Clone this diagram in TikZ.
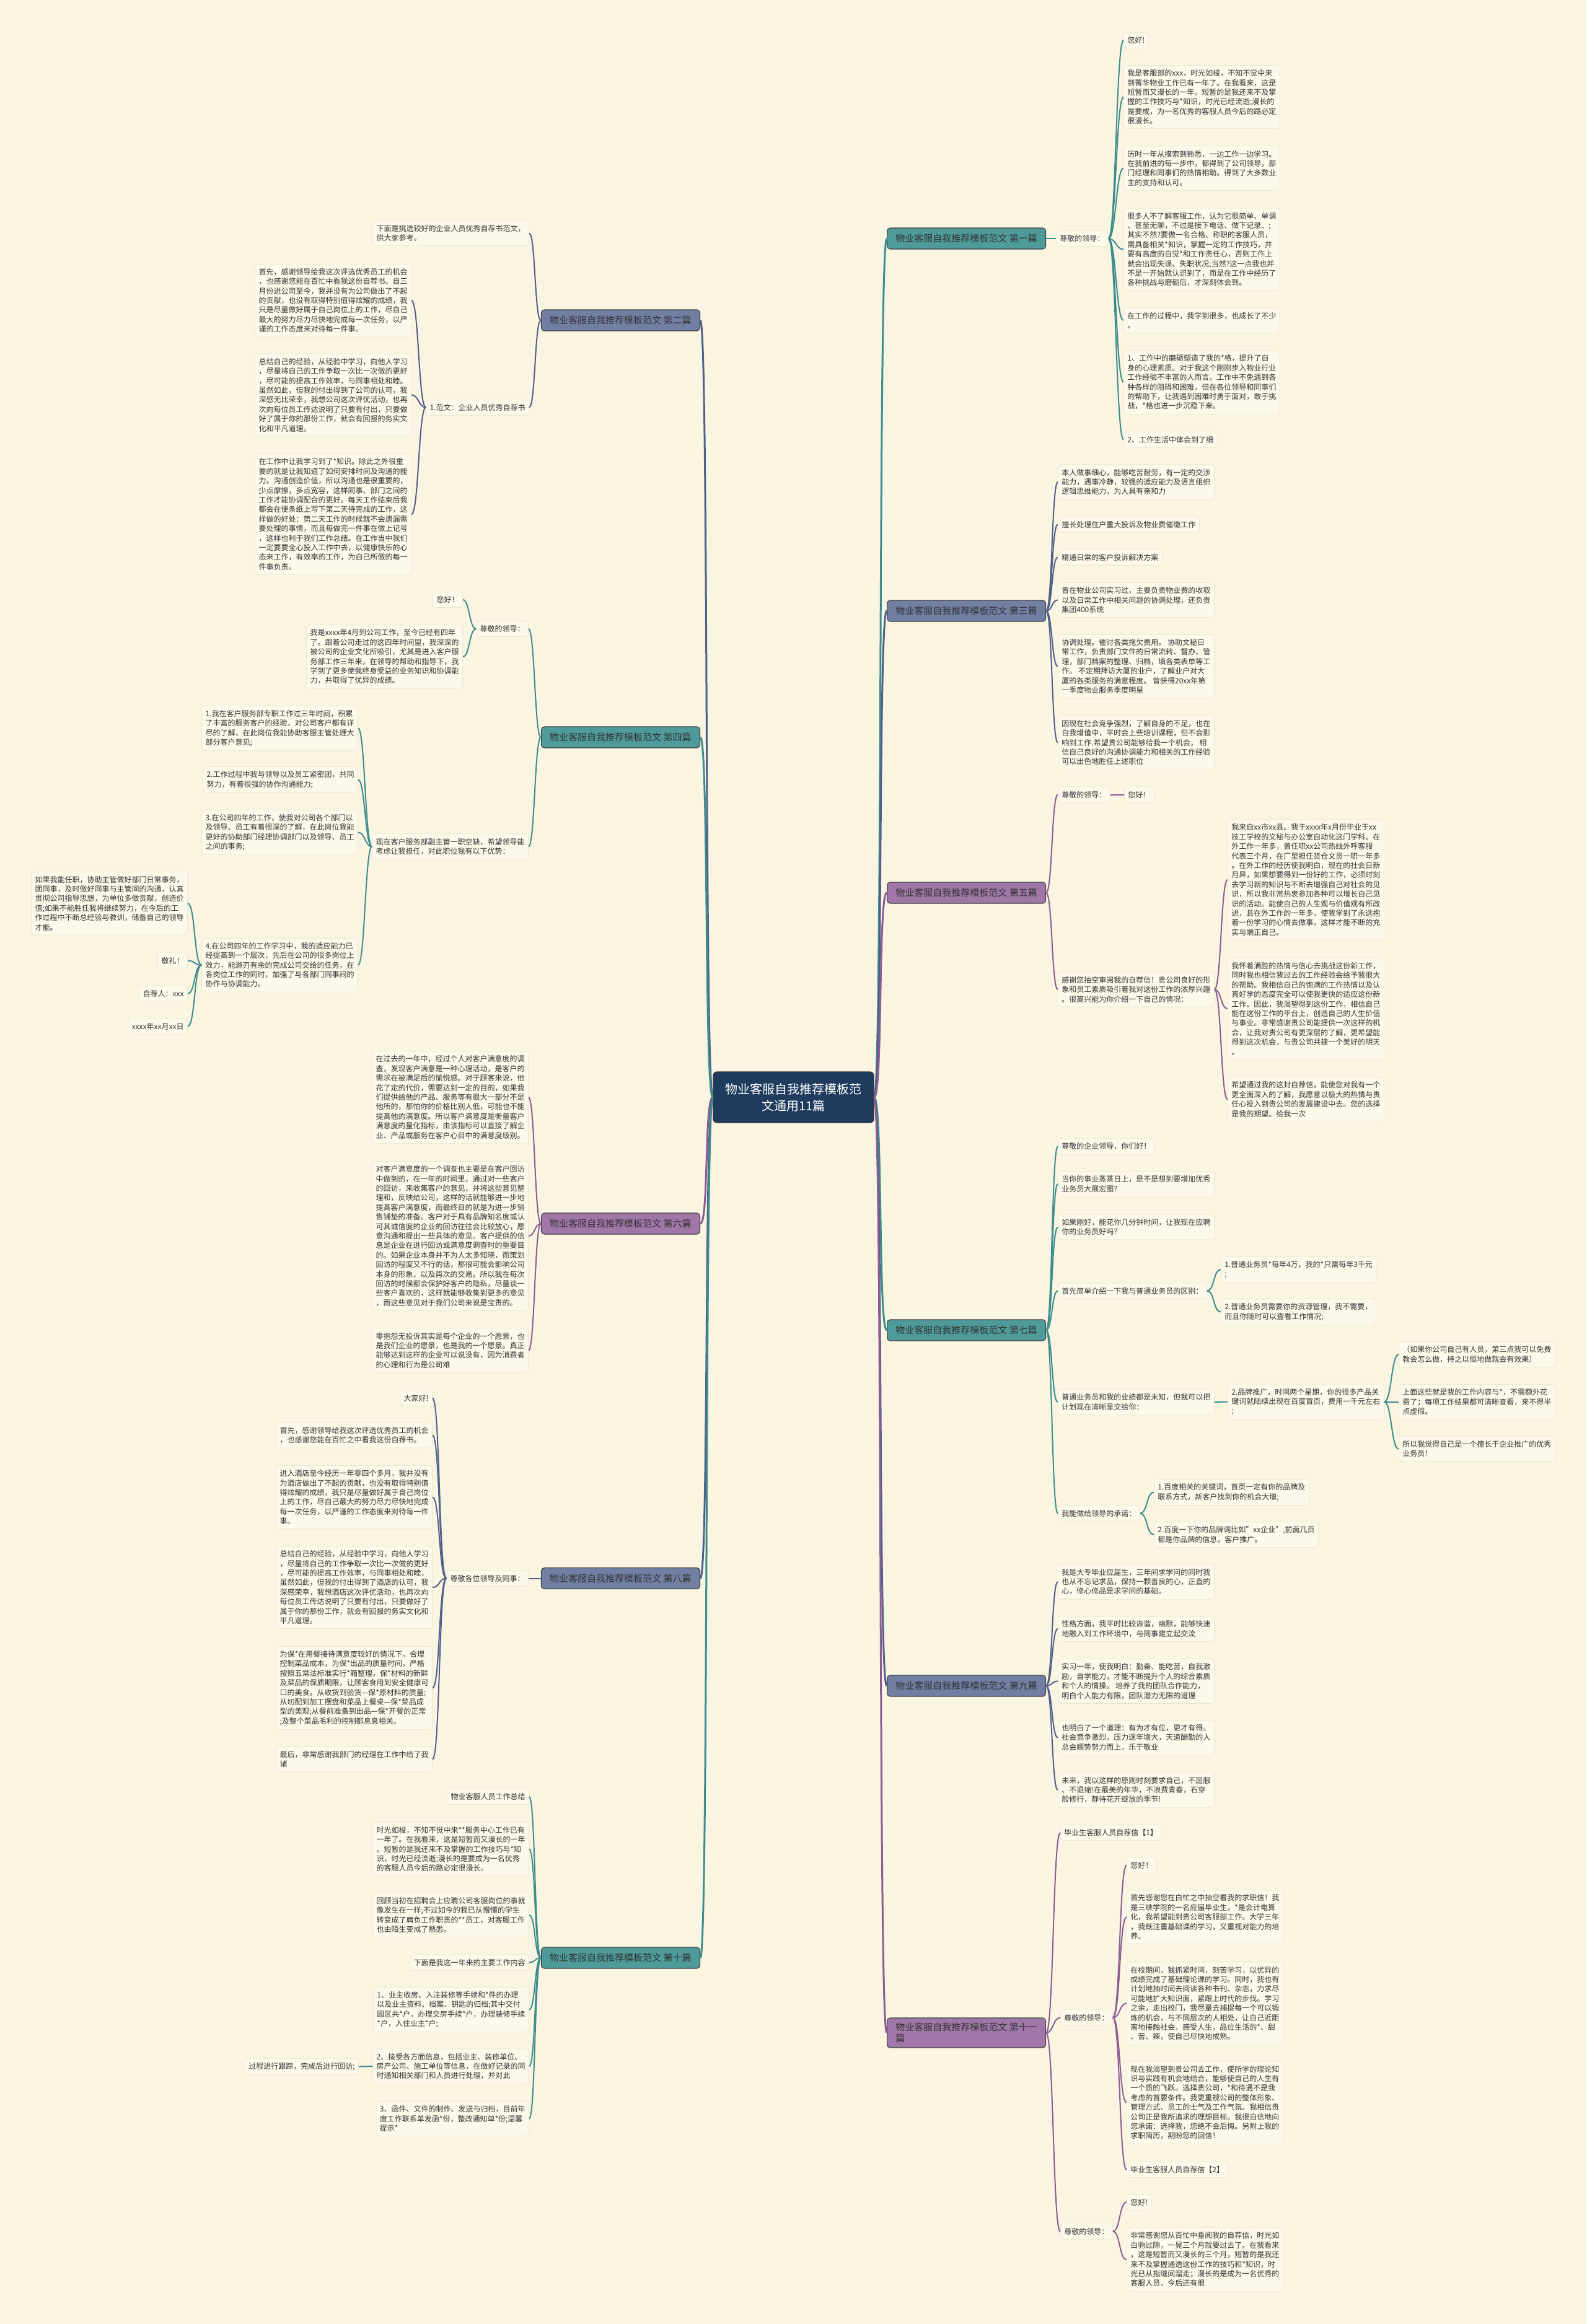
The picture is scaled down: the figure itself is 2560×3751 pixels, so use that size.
\documentclass[tikz,border=0pt]{standalone}
\usepackage{fontspec}
\setmainfont{Noto Sans CJK SC}
\usetikzlibrary{positioning}
\definecolor{bgcream}{HTML}{FAF5E1}
\definecolor{leaffill}{HTML}{FCF8EA}
\definecolor{leafline}{HTML}{EEE7D0}
\definecolor{inkgray}{HTML}{333333}
\definecolor{rootnavy}{HTML}{1F3C5E}
\definecolor{tealfill}{HTML}{4F9A9A}
\definecolor{tealline}{HTML}{3D8C8E}
\definecolor{slatefill}{HTML}{717FA3}
\definecolor{slateline}{HTML}{50608A}
\definecolor{plumfill}{HTML}{A077A8}
\definecolor{plumline}{HTML}{8C5C94}
\tikzset{
  leafbox/.style={draw=leafline, fill=leaffill, rounded corners=4pt, line width=0.8pt,
    text=inkgray, font=\fontsize{12}{15.4}\selectfont, align=left, inner xsep=6pt, inner ysep=7pt},
  leafR/.style={leafbox, anchor=west},
  leafL/.style={leafbox, anchor=east},
  branchbox/.style={draw=black!75, rounded corners=5pt, line width=1.2pt, text=inkgray,
    font=\fontsize{15}{18}\selectfont, minimum width=256pt, minimum height=34pt,
    inner xsep=9pt, inner ysep=7pt, align=left},
  rootbox/.style={draw=black!80, fill=rootnavy, rounded corners=6pt, line width=1.2pt, text=white,
    font=\fontsize{20}{27}\selectfont, minimum width=259pt, minimum height=82pt, align=center},
  mainwire/.style={line width=3pt},
  wire/.style={line width=2pt}
}
\begin{document}
\begin{tikzpicture}[x=1pt, y=-1pt]
  \useasboundingbox (0,0) rectangle (2560,3751);
  \fill[bgcream] (0,0) rectangle (2560,3751);

  % root
  \node[rootbox] (root) at (1280.5,1771) {物业客服自我推荐模板范\\文通用11篇};

  % branches, right
  \node[branchbox, fill=tealfill, anchor=west] (b1) at (1431,385) {物业客服自我推荐模板范文 第一篇};
  \node[branchbox, fill=slatefill, anchor=west] (b3) at (1431,986) {物业客服自我推荐模板范文 第三篇};
  \node[branchbox, fill=plumfill, anchor=west] (b5) at (1431,1441) {物业客服自我推荐模板范文 第五篇};
  \node[branchbox, fill=tealfill, anchor=west] (b7) at (1431,2147) {物业客服自我推荐模板范文 第七篇};
  \node[branchbox, fill=slatefill, anchor=west] (b9) at (1431,2721) {物业客服自我推荐模板范文 第九篇};
  \node[branchbox, fill=plumfill, anchor=west, minimum height=48pt] (b11) at (1431,3281) {物业客服自我推荐模板范文 第十一\\篇};
  % branches, left
  \node[branchbox, fill=slatefill, anchor=east] (b2) at (1130,517) {物业客服自我推荐模板范文 第二篇};
  \node[branchbox, fill=tealfill, anchor=east] (b4) at (1130,1190) {物业客服自我推荐模板范文 第四篇};
  \node[branchbox, fill=plumfill, anchor=east] (b6) at (1130,1975) {物业客服自我推荐模板范文 第六篇};
  \node[branchbox, fill=slatefill, anchor=east] (b8) at (1130,2547.5) {物业客服自我推荐模板范文 第八篇};
  \node[branchbox, fill=tealfill, anchor=east] (b10) at (1130,3160) {物业客服自我推荐模板范文 第十篇};

  % first
  \node[leafR] (b1a) at (1704,385) {尊敬的领导：};
  \node[leafR] (b1l1) at (1813,65) {您好!};
  \node[leafR] (b1l2) at (1813,156.5) {我是客服部的xxx，时光如梭，不知不觉中来\\到菁华物业工作已有一年了。在我看来，这是\\短暂而又漫长的一年。短暂的是我还来不及掌\\握的工作技巧与*知识，时光已经流逝;漫长的\\是要成，为一名优秀的客服人员今后的路必定\\很漫长。};
  \node[leafR] (b1l3) at (1813,271.5) {历时一年从摸索到熟悉，一边工作一边学习。\\在我前进的每一步中，都得到了公司领导，部\\门经理和同事们的热情相助。得到了大多数业\\主的支持和认可。};
  \node[leafR] (b1l4) at (1813,402.5) {很多人不了解客服工作，认为它很简单、单调\\、甚至无聊，不过是接下电话、做下记录、;\\其实不然?要做一名合格、称职的客服人员，\\需具备相关*知识，掌握一定的工作技巧，并\\要有高度的自觉*和工作责任心，否则工作上\\就会出现失误、失职状况;当然?这一点我也并\\不是一开始就认识到了，而是在工作中经历了\\各种挑战与磨砺后，才深刻体会到。};
  \node[leafR] (b1l5) at (1813,517) {在工作的过程中，我学到很多，也成长了不少\\。};
  \node[leafR] (b1l6) at (1813,617) {1、工作中的磨砺塑造了我的*格，提升了自\\身的心理素质。对于我这个刚刚步入物业行业\\工作经验不丰富的人而言。工作中不免遇到各\\种各样的阻碍和困难，但在各位领导和同事们\\的帮助下，让我遇到困难时勇于面对，敢于挑\\战，*格也进一步沉稳下来。};
  \node[leafR] (b1l7) at (1813,709.5) {2、工作生活中体会到了细};

  % third
  \node[leafR] (b3l1) at (1707,778) {本人做事细心，能够吃苦耐劳，有一定的交涉\\能力，遇事冷静，较强的适应能力及语言组织\\逻辑思维能力，为人具有亲和力};
  \node[leafR] (b3l2) at (1707,846.5) {擅长处理住户重大投诉及物业费催缴工作};
  \node[leafR] (b3l3) at (1707,899.5) {精通日常的客户投诉解决方案};
  \node[leafR] (b3l4) at (1707,968.5) {曾在物业公司实习过，主要负责物业费的收取\\以及日常工作中相关问题的协调处理，还负责\\集团400系统};
  \node[leafR] (b3l5) at (1707,1075.5) {协调处理。催讨各类拖欠费用。 协助文秘日\\常工作，负责部门文件的日常流转、督办、管\\理，部门档案的整理、归档，填各类表单等工\\作。 不定期拜访大厦的业户，了解业户对大\\厦的各类服务的满意程度。 曾获得20xx年第\\一季度物业服务季度明星};
  \node[leafR] (b3l6) at (1707,1198.5) {因现在社会竞争强烈，了解自身的不足，也在\\自我增值中，平时会上些培训课程，但不会影\\响到工作.希望贵公司能够给我一个机会， 相\\信自己良好的沟通协调能力和相关的工作经验\\可以出色地胜任上述职位};

  % fifth
  \node[leafR] (b5a) at (1707,1282.5) {尊敬的领导：};
  \node[leafR] (b5b) at (1814,1282.5) {您好！};
  \node[leafR] (b5c) at (1707,1597) {感谢您抽空审阅我的自荐信！贵公司良好的形\\象和员工素质吸引着我对这份工作的浓厚兴趣\\。很高兴能为你介绍一下自己的情况：};
  \node[leafR] (b5c1) at (1981,1420) {我来自xx市xx县。我于xxxx年x月份毕业于xx\\技工学校的文秘与办公室自动化这门学科。在\\外工作一年多，曾任职xx公司热线外呼客服\\代表三个月，在厂里担任货仓文员一职一年多\\。在外工作的经历使我明白，现在的社会日新\\月异，如果想要得到一份好的工作，必须时刻\\去学习新的知识与不断去增强自己对社会的见\\识，所以我非常热衷参加各种可以增长自己见\\识的活动。能使自己的人生观与价值观有所改\\进，且在外工作的一年多，使我学到了永远抱\\着一份学习的心情去做事，这样才能不断的充\\实与端正自己。};
  \node[leafR] (b5c2) at (1981,1628) {我怀着满腔的热情与信心去挑战这份新工作，\\同时我也相信我过去的工作经验会给予我很大\\的帮助。我相信自己的饱满的工作热情以及认\\真好学的态度完全可以使我更快的适应这份新\\工作。因此，我渴望得到这份工作，相信自己\\能在这份工作的平台上，创造自己的人生价值\\与事业。非常感谢贵公司能提供一次这样的机\\会，让我对贵公司有更深层的了解，更希望能\\得到这次机会，与贵公司共建一个美好的明天\\。};
  \node[leafR] (b5c3) at (1981,1774.5) {希望通过我的这封自荐信，能使您对我有一个\\更全面深入的了解，我愿意以极大的热情与责\\任心投入到贵公司的发展建设中去。您的选择\\是我的期望。给我一次};

  % seventh
  \node[leafR] (b7l1) at (1707,1850.5) {尊敬的企业领导，你们好！};
  \node[leafR] (b7l2) at (1707,1911) {当你的事业蒸蒸日上，是不是想到要增加优秀\\业务员大展宏图？};
  \node[leafR] (b7l3) at (1707,1980.5) {如果刚好，能花你几分钟时间，让我现在应聘\\你的业务员好吗？};
  \node[leafR] (b7l4) at (1707,2083.5) {首先简单介绍一下我与普通业务员的区别：};
  \node[leafR] (b7l4a) at (1970,2049) {1.普通业务员*每年4万，我的*只需每年3千元\\;};
  \node[leafR] (b7l4b) at (1970,2117.5) {2.普通业务员需要你的资源管理，我不需要，\\而且你随时可以查看工作情况;};
  \node[leafR] (b7l5) at (1707,2263) {普通业务员和我的业绩都是未知，但我可以把\\计划现在清晰呈交给你：};
  \node[leafR] (b7l5a) at (1981,2262.5) {2.品牌推广，时间两个星期，你的很多产品关\\键词就陆续出现在百度首页，费用一千元左右\\;};
  \node[leafR] (b7l5a1) at (2257,2186) {（如果你公司自己有人员，第三点我可以免费\\教会怎么做，持之以恒地做就会有效果）};
  \node[leafR] (b7l5a2) at (2257,2262.5) {上面这些就是我的工作内容与*，不需额外花\\费了；每项工作结果都可清晰查看，来不得半\\点虚假。};
  \node[leafR] (b7l5a3) at (2257,2338.5) {所以我觉得自己是一个擅长于企业推广的优秀\\业务员！};
  \node[leafR] (b7l6) at (1707,2442.5) {我能做给领导的承诺：};
  \node[leafR] (b7l6a) at (1862,2408.5) {1.百度相关的关键词，首页一定有你的品牌及\\联系方式，新客户找到你的机会大增;};
  \node[leafR] (b7l6b) at (1862,2477) {2.百度一下你的品牌词比如"xx企业",前面几页\\都是你品牌的信息，客户推广。};

  % ninth
  \node[leafR] (b9l1) at (1707,2553) {我是大专毕业应届生，三年间求学问的同时我\\也从不忘记求品，保持一颗善良的心，正直的\\心，修心修品是求学问的基础。};
  \node[leafR] (b9l2) at (1707,2629) {性格方面，我平时比较诙谐，幽默，能够快速\\地融入到工作坏境中，与同事建立起交流};
  \node[leafR] (b9l3) at (1707,2713.5) {实习一年，使我明白：勤奋、能吃苦，自我激\\励，自学能力，才能不断提升个人的综合素质\\和个人的情操。 培养了我的团队合作能力，\\明白个人能力有限，团队潜力无限的道理};
  \node[leafR] (b9l4) at (1707,2804.5) {也明白了一个道理：有为才有位，更才有得。\\社会竞争激烈，压力逐年增大，天道酬勤的人\\总会顺势努力而上，乐于敬业};
  \node[leafR] (b9l5) at (1707,2889) {未来，我以这样的原则时刻要求自己，不屈服\\、不退缩!在最美的年华，不浪费青春，石穿\\般修行，静待花开绽放的季节!};

  % eleventh
  \node[leafR] (b11a) at (1711,2958) {毕业生客服人员自荐信【1】};
  \node[leafR] (b11b) at (1711,3256.5) {尊敬的领导：};
  \node[leafR] (b11b1) at (1818,3010.5) {您好！};
  \node[leafR] (b11b2) at (1818,3094) {首先感谢您在白忙之中抽空看我的求职信！我\\是三峡学院的一名应届毕业生，*是会计电算\\化，我希望能到贵公司客服部工作。大学三年\\，我既注重基础课的学习，又重视对能力的培\\养。};
  \node[leafR] (b11b3) at (1818,3233.5) {在校期间，我抓紧时间，刻苦学习，以优异的\\成绩完成了基础理论课的学习。同时，我也有\\计划地抽时间去阅读各种书刊、杂志，力求尽\\可能地扩大知识面，紧跟上时代的步伐。学习\\之余，走出校门，我尽量去捕捉每一个可以锻\\炼的机会，与不同层次的人相处，让自己近距\\离地接触社会，感受人生，品位生活的*、甜\\、苦、辣，使自己尽快地成熟。};
  \node[leafR] (b11b4) at (1818,3393.5) {现在我渴望到贵公司去工作，使所学的理论知\\识与实践有机会地结合，能够使自己的人生有\\一个质的飞跃。选择贵公司，*和待遇不是我\\考虑的首要条件。我更重视公司的整体形象、\\管理方式、员工的士气及工作气氛。我相信贵\\公司正是我所追求的理想目标。我很自信地向\\您承诺：选择我，您绝不会后悔。另附上我的\\求职简历，期盼您的回信！};
  \node[leafR] (b11b5) at (1818,3502) {毕业生客服人员自荐信【2】};
  \node[leafR] (b11c) at (1711,3601.5) {尊敬的领导：};
  \node[leafR] (b11c1) at (1818,3554.5) {您好!};
  \node[leafR] (b11c2) at (1818,3647) {非常感谢您从百忙中垂阅我的自荐信，时光如\\白驹过隙，一晃三个月就要过去了。在我看来\\，这是短暂而又漫长的三个月，短暂的是我还\\来不及掌握通透这份工作的技巧和*知识，时\\光已从指缝间溜走；漫长的是成为一名优秀的\\客服人员，今后还有很};

  % second
  \node[leafL] (b2l1) at (854,376.5) {下面是挑选较好的企业人员优秀自荐书范文，\\供大家参考。};
  \node[leafL] (b2l2) at (854,657.5) {1.范文：企业人员优秀自荐书};
  \node[leafL] (b2l2a) at (664,485) {首先，感谢领导给我这次评选优秀员工的机会\\，也感谢您能在百忙中看我这份自荐书。自三\\月份进公司至今，我并没有为公司做出了不起\\的贡献，也没有取得特别值得炫耀的成绩，我\\只是尽量做好属于自己岗位上的工作，尽自己\\最大的努力尽力尽快地完成每一次任务，以严\\谨的工作态度来对待每一件事。};
  \node[leafL] (b2l2b) at (664,637.5) {总结自己的经验，从经验中学习，向他人学习\\，尽量将自己的工作争取一次比一次做的更好\\，尽可能的提高工作效率，与同事相处和睦。\\虽然如此，但我的付出得到了公司的认可，我\\深感无比荣幸，我想公司这次评优活动，也再\\次向每位员工传达说明了只要有付出，只要做\\好了属于你的那份工作，就会有回报的务实文\\化和平凡道理。};
  \node[leafL] (b2l2c) at (664,830) {在工作中让我学习到了*知识。除此之外很重\\要的就是让我知道了如何安排时间及沟通的能\\力。沟通创造价值，所以沟通也是很重要的，\\少点摩擦，多点宽容，这样同事、部门之间的\\工作才能协调配合的更好。每天工作结束后我\\都会在便条纸上写下第二天待完成的工作，这\\样做的好处：第二天工作的时候就不会遗漏需\\要处理的事情，而且每做完一件事在做上记号\\，这样也利于我们工作总结。在工作当中我们\\一定要要全心投入工作中去，以健康快乐的心\\态来工作，有效率的工作，为自己所做的每一\\件事负责。};

  % fourth
  \node[leafL] (b4a) at (853,1015) {尊敬的领导：};
  \node[leafL] (b4a1) at (747,968) {您好！};
  \node[leafL] (b4a2) at (747,1060) {我是xxxx年4月到公司工作，至今已经有四年\\了。跟着公司走过的这四年时间里，我深深的\\被公司的企业文化所吸引，尤其是进入客户服\\务部工作三年来，在领导的帮助和指导下，我\\学到了更多使我终身受益的业务知识和协调能\\力，并取得了优异的成绩。};
  \node[leafL] (b4b) at (853,1366.5) {现在客户服务部副主管一职空缺，希望领导能\\考虑让我担任，对此职位我有以下优势：};
  \node[leafL] (b4b1) at (578,1175.5) {1.我在客户服务部专职工作过三年时间，积累\\了丰富的服务客户的经验，对公司客户都有详\\尽的了解，在此岗位我能协助客服主管处理大\\部分客户意见;};
  \node[leafL] (b4b2) at (578,1258.5) {2.工作过程中我与领导以及员工紧密团，共同\\努力，有着很强的协作沟通能力;};
  \node[leafL] (b4b3) at (578,1343.5) {3.在公司四年的工作，使我对公司各个部门以\\及领导、员工有着很深的了解，在此岗位我能\\更好的协助部门经理协调部门以及领导、员工\\之间的事务;};
  \node[leafL] (b4b4) at (578,1557.5) {4.在公司四年的工作学习中，我的适应能力已\\经提高到一个层次，先后在公司的很多岗位上\\效力，能游刃有余的完成公司交给的任务，在\\各岗位工作的同时，加强了与各部门同事间的\\协作与协调能力。};
  \node[leafL] (b4b4a) at (303,1458) {如果我能任职，协助主管做好部门日常事务，\\团同事，及时做好同事与主管间的沟通，认真\\贯彻公司指导思想，为单位多做贡献，创造价\\值;如果不能胜任我将继续努力，在今后的工\\作过程中不断总经验与教训，储备自己的领导\\才能。};
  \node[leafL] (b4b4b) at (303,1550.5) {敬礼！};
  \node[leafL] (b4b4c) at (303,1603.5) {自荐人：xxx};
  \node[leafL] (b4b4d) at (303,1656.5) {xxxx年xx月xx日};

  % sixth
  \node[leafL] (b6l1) at (853,1771) {在过去的一年中，经过个人对客户满意度的调\\查，发现客户满意是一种心理活动，是客户的\\需求在被满足后的愉悦感。对于顾客来说，他\\花了定的代价，需要达到一定的目的，如果我\\们提供给他的产品、服务等有很大一部分不是\\他所的，那怕你的价格比别人低，可能也不能\\提高他的满意度。所以客户满意度是衡量客户\\满意度的量化指标，由该指标可以直接了解企\\业、产品或服务在客户心目中的满意度级别。};
  \node[leafL] (b6l2) at (853,1995) {对客户满意度的一个调查也主要是在客户回访\\中做到的，在一年的时间里，通过对一些客户\\的回访，来收集客户的意见，并将这些意见整\\理和，反映给公司，这样的话就能够进一步地\\提高客户满意度，而最终目的就是为进一步销\\售铺垫的准备。客户对于具有品牌知名度或认\\可其诚信度的企业的回访往往会比较放心，愿\\意沟通和提出一些具体的意见。客户提供的信\\息是企业在进行回访或满意度调查时的重要目\\的。如果企业本身并不为人太多知晓，而策划\\回访的程度又不行的话，那很可能会影响公司\\本身的形象，以及再次的交易。所以我在每次\\回访的时候都会保护好客户的隐私，尽量谈一\\些客户喜欢的，这样就能够收集到更多的意见\\，而这些意见对于我们公司来说是宝贵的。};
  \node[leafL] (b6l3) at (853,2179.5) {零抱怨无投诉其实是每个企业的一个愿景，也\\是我们企业的愿景，也是我的一个愿景。真正\\能够达到这样的企业可以说没有，因为消费者\\的心理和行为是公司难};

  % eighth
  \node[leafL] (b8a) at (853,2547.5) {尊敬各位领导及同事：};
  \node[leafL] (b8a1) at (698,2256.5) {大家好!};
  \node[leafL] (b8a2) at (698,2316.5) {首先，感谢领导给我这次评选优秀员工的机会\\，也感谢您能在百忙之中看我这份自荐书。};
  \node[leafL] (b8a3) at (698,2416.5) {进入酒店至今经历一年零四个多月，我并没有\\为酒店做出了不起的贡献，也没有取得特别值\\得炫耀的成绩，我只是尽量做好属于自己岗位\\上的工作，尽自己最大的努力尽力尽快地完成\\每一次任务，以严谨的工作态度来对待每一件\\事。};
  \node[leafL] (b8a4) at (698,2562) {总结自己的经验，从经验中学习，向他人学习\\，尽量将自己的工作争取一次比一次做的更好\\，尽可能的提高工作效率，与同事相处和睦，\\虽然如此，但我的付出得到了酒店的认可，我\\深感荣幸，我想酒店这次评优活动，也再次向\\每位员工传达说明了只要有付出，只要做好了\\属于你的那份工作，就会有回报的务实文化和\\平凡道理。};
  \node[leafL] (b8a5) at (698,2724.5) {为保*在用餐接待满意度较好的情况下，合理\\控制菜品成本，为保*出品的质量时间，严格\\按照五常法标准实行*箱整理，保*材料的新鲜\\及菜品的保质期限，让顾客食用到安全健康可\\口的美食。从收货到验货—保*原材料的质量;\\从切配到加工摆盘和菜品上餐桌—保*菜品成\\型的美观;从餐前准备到出品—保*开餐的正常\\;及整个菜品毛利的控制都息息相关。};
  \node[leafL] (b8a6) at (698,2839.5) {最后，非常感谢我部门的经理在工作中给了我\\诸};

  % tenth
  \node[leafL] (b10l1) at (854,2900) {物业客服人员工作总结};
  \node[leafL] (b10l2) at (854,2984.5) {时光如梭，不知不觉中来**服务中心工作已有\\一年了。在我看来，这是短暂而又漫长的一年\\。短暂的是我还来不及掌握的工作技巧与*知\\识，时光已经流逝;漫长的是要成为一名优秀\\的客服人员今后的路必定很漫长。};
  \node[leafL] (b10l3) at (854,3091) {回顾当初在招聘会上应聘公司客服岗位的事就\\像发生在一样;不过如今的我已从懵懂的学生\\转变成了肩负工作职责的**员工，对客服工作\\也由陌生变成了熟悉。};
  \node[leafL] (b10l4) at (854,3167.5) {下面是我这一年来的主要工作内容};
  \node[leafL] (b10l5) at (854,3243.5) {1、业主收房、入注装修等手续和*件的办理\\以及业主资料、档案、钥匙的归档;其中交付\\园区共*户，办理交房手续*户，办理装修手续\\*户，入住业主*户;};
  \node[leafL] (b10l6) at (854,3335) {2、接受各方面信息，包括业主、装修单位、\\房产公司、施工单位等信息，在做好记录的同\\时通知相关部门和人员进行处理，并对此};
  \node[leafL] (b10l6a) at (579,3335.5) {过程进行跟踪，完成后进行回访;};
  \node[leafL] (b10l7) at (854,3419.5) {3、函件、文件的制作、发送与归档，目前年\\度工作联系单发函*份，整改通知单*份;温馨\\提示*};

  % root to branches
  \foreach \b/\c in {b1/tealline,b3/slateline,b5/plumline,b7/tealline,b9/slateline,b11/plumline}
    \draw[mainwire, draw=\c] (root.east) .. controls +(14,0) and +(-14,0) .. (\b.west);
  \foreach \b/\c in {b2/slateline,b4/tealline,b6/plumline,b8/slateline,b10/tealline}
    \draw[mainwire, draw=\c] (root.west) .. controls +(-14,0) and +(14,0) .. (\b.east);

  % right side wires
  \draw[wire, tealline] (b1.east) -- (b1a.west);
  \foreach \c in {b1l1,b1l2,b1l3,b1l4,b1l5,b1l6,b1l7}
    \draw[wire, tealline] (b1a.east) .. controls +(12,0) and +(-12,0) .. (\c.west);
  \foreach \c in {b3l1,b3l2,b3l3,b3l4,b3l5,b3l6}
    \draw[wire, slateline] (b3.east) .. controls +(10,0) and +(-10,0) .. (\c.west);
  \foreach \c in {b5a,b5c}
    \draw[wire, plumline] (b5.east) .. controls +(10,0) and +(-10,0) .. (\c.west);
  \draw[wire, plumline] (b5a.east) -- (b5b.west);
  \foreach \c in {b5c1,b5c2,b5c3}
    \draw[wire, plumline] (b5c.east) .. controls +(11,0) and +(-11,0) .. (\c.west);
  \foreach \c in {b7l1,b7l2,b7l3,b7l4,b7l5,b7l6}
    \draw[wire, tealline] (b7.east) .. controls +(10,0) and +(-10,0) .. (\c.west);
  \foreach \c in {b7l4a,b7l4b}
    \draw[wire, tealline] (b7l4.east) .. controls +(12,0) and +(-12,0) .. (\c.west);
  \draw[wire, tealline] (b7l5.east) -- (b7l5a.west);
  \foreach \c in {b7l5a1,b7l5a2,b7l5a3}
    \draw[wire, tealline] (b7l5a.east) .. controls +(12,0) and +(-12,0) .. (\c.west);
  \foreach \c in {b7l6a,b7l6b}
    \draw[wire, tealline] (b7l6.east) .. controls +(12,0) and +(-12,0) .. (\c.west);
  \foreach \c in {b9l1,b9l2,b9l3,b9l4,b9l5}
    \draw[wire, slateline] (b9.east) .. controls +(10,0) and +(-10,0) .. (\c.west);
  \foreach \c in {b11a,b11b,b11c}
    \draw[wire, plumline] (b11.east) .. controls +(12,0) and +(-12,0) .. (\c.west);
  \foreach \c in {b11b1,b11b2,b11b3,b11b4,b11b5}
    \draw[wire, plumline] (b11b.east) .. controls +(12,0) and +(-12,0) .. (\c.west);
  \foreach \c in {b11c1,b11c2}
    \draw[wire, plumline] (b11c.east) .. controls +(12,0) and +(-12,0) .. (\c.west);

  % left side wires
  \foreach \c in {b2l1,b2l2}
    \draw[wire, slateline] (b2.west) .. controls +(-10,0) and +(10,0) .. (\c.east);
  \foreach \c in {b2l2a,b2l2b,b2l2c}
    \draw[wire, slateline] (b2l2.west) .. controls +(-12,0) and +(12,0) .. (\c.east);
  \foreach \c in {b4a,b4b}
    \draw[wire, tealline] (b4.west) .. controls +(-10,0) and +(10,0) .. (\c.east);
  \foreach \c in {b4a1,b4a2}
    \draw[wire, tealline] (b4a.west) .. controls +(-11,0) and +(11,0) .. (\c.east);
  \foreach \c in {b4b1,b4b2,b4b3,b4b4}
    \draw[wire, tealline] (b4b.west) .. controls +(-11,0) and +(11,0) .. (\c.east);
  \foreach \c in {b4b4a,b4b4b,b4b4c,b4b4d}
    \draw[wire, tealline] (b4b4.west) .. controls +(-12,0) and +(12,0) .. (\c.east);
  \foreach \c in {b6l1,b6l2,b6l3}
    \draw[wire, plumline] (b6.west) .. controls +(-10,0) and +(10,0) .. (\c.east);
  \draw[wire, slateline] (b8.west) -- (b8a.east);
  \foreach \c in {b8a1,b8a2,b8a3,b8a4,b8a5,b8a6}
    \draw[wire, slateline] (b8a.west) .. controls +(-12,0) and +(12,0) .. (\c.east);
  \foreach \c in {b10l1,b10l2,b10l3,b10l4,b10l5,b10l6,b10l7}
    \draw[wire, tealline] (b10.west) .. controls +(-10,0) and +(10,0) .. (\c.east);
  \draw[wire, tealline] (b10l6.west) -- (b10l6a.east);
\end{tikzpicture}
\end{document}
